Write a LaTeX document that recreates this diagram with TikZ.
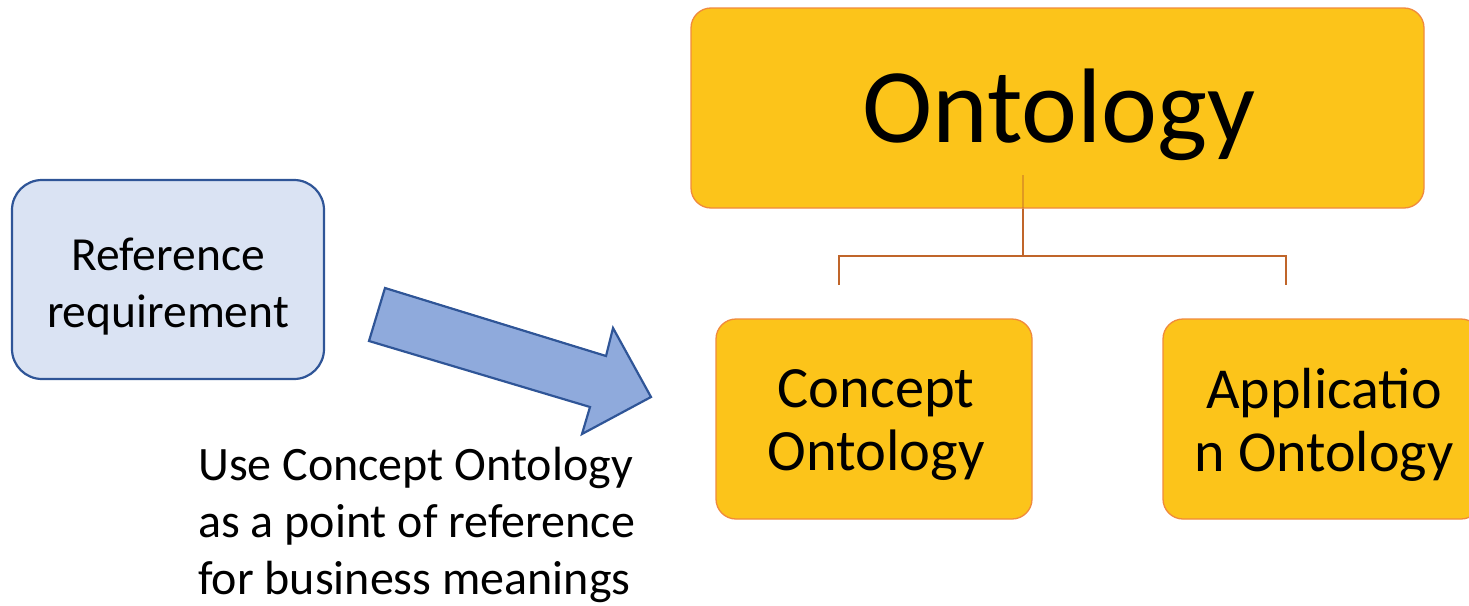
\documentclass[tikz,border=0pt]{standalone}
\usepackage{fontspec}
\setmainfont{Carlito}
\definecolor{reqfill}{HTML}{DAE3F3}
\definecolor{reqline}{HTML}{2F5597}
\definecolor{arrowfill}{HTML}{8FAADC}
\definecolor{ontfill}{HTML}{FCC41A}
\definecolor{ontline}{HTML}{F08A3C}
\definecolor{linkline}{HTML}{C0652A}
\tikzset{
  reqbox/.style={draw=reqline, fill=reqfill, line width=2.2pt, rounded corners=30pt,
    minimum width=312pt, minimum height=199pt},
  ontbox/.style={draw=ontline, fill=ontfill, line width=1.3pt, rounded corners=20pt},
  label/.style={align=center, inner sep=0pt},
  link/.style={draw=linkline, line width=2.4pt},
}
\begin{document}
\begin{tikzpicture}[x=1pt, y=-1pt]
\useasboundingbox (0,0) rectangle (1469,605);

% input box
\node[reqbox] (req) at (168,279.5) {};
\node[label, font=\fontsize{47.5}{57}\selectfont] (reqtext) at (168,287)
  {Reference\\requirement};

% block arrow pointing at the concept ontology
\draw[draw=reqline, fill=arrowfill, line width=2.2pt, line join=miter]
  (385,288) coordinate (a1) -- (606,356) -- (613,328) -- (651,397)
  -- (582,434) -- (590,407) -- (369,341) -- cycle;

% note below the arrow
\node[anchor=north west, align=left, inner sep=0pt,
      font=\fontsize{48}{57}\selectfont] (note) at (198,447)
  {Use Concept Ontology\\as a point of reference\\for business meanings};

% ontology hierarchy
\node[ontbox, minimum width=733pt, minimum height=200pt] (ont) at (1057.5,108) {};
\node[label, font=\fontsize{106}{120}\selectfont] (onttext) at (1059,115) {Ontology};
\node[ontbox, minimum width=316pt, minimum height=200pt] (concept) at (874,419) {};
\node[label, font=\fontsize{58.5}{63}\selectfont] (concepttext) at (876,425)
  {Concept\\Ontology};
\node[ontbox, minimum width=318pt, minimum height=200pt] (app) at (1322,419) {};
\node[label, font=\fontsize{58}{63}\selectfont] (apptext) at (1324,425)
  {Applicatio\\n Ontology};

% tree connector
\coordinate (stem) at (1023,175);
\coordinate (bus) at (1023,256);
\coordinate (cl) at (839,285);
\coordinate (cr) at (1286,285);
\draw[link, draw opacity=0.45] (stem) -- (stem |- ont.south);
\draw[link] (stem |- ont.south) -- (bus);
\draw[link] (cl) |- (bus) -| (cr);
\end{tikzpicture}
\end{document}
